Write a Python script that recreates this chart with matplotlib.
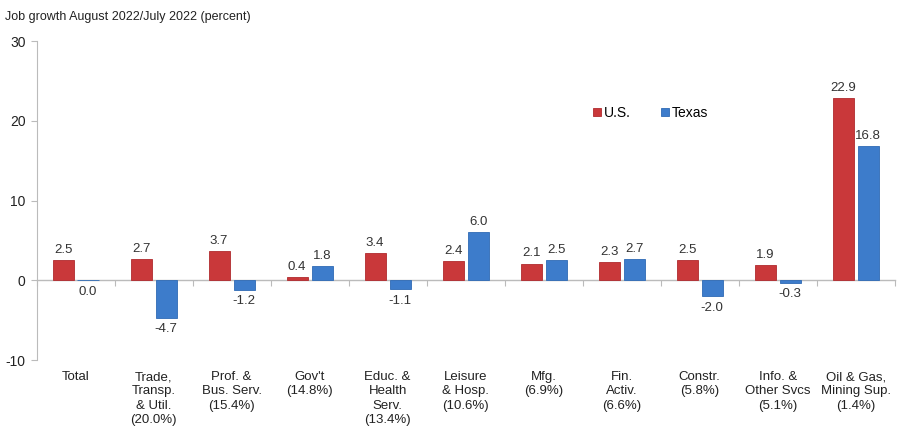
import matplotlib.pyplot as plt
import numpy as np

plt.rcParams['font.family'] = ['Liberation Sans', 'DejaVu Sans']
plt.rcParams['axes.unicode_minus'] = False

# Job growth by sector, August 2022 over July 2022
sectors = ['Total', 'Trade,\nTransp.\n& Util.\n(20.0%)', 'Prof. &\nBus. Serv.\n(15.4%)',
           "Gov't\n(14.8%)", 'Educ. &\nHealth\nServ.\n(13.4%)', 'Leisure\n& Hosp.\n(10.6%)',
           'Mfg.\n(6.9%)', 'Fin.\nActiv.\n(6.6%)', 'Constr.\n(5.8%)',
           'Info. &\nOther Svcs\n(5.1%)', 'Oil & Gas,\nMining Sup.\n(1.4%)']
us = [2.5, 2.7, 3.7, 0.4, 3.4, 2.4, 2.1, 2.3, 2.5, 1.9, 22.9]
texas = [0.0, -4.7, -1.2, 1.8, -1.1, 6.0, 2.5, 2.7, -2.0, -0.3, 16.8]

red = '#C9383A'
blue = '#3D7CCB'

fig = plt.figure(figsize=(9.13, 4.37), dpi=100)
ax = fig.add_axes([0.040, 0.176, 0.940, 0.730])

x = np.arange(len(sectors))
w = 0.27
off = 0.16
b1 = ax.bar(x - off, us, w, color=red, edgecolor='#B02A2E', linewidth=0.6, label='U.S.')
b2 = ax.bar(x + off, texas, w, color=blue, edgecolor='#2F6AB5', linewidth=0.6, label='Texas')

# value labels: above positive bars, below zero/negative bars
for bars, vals in ((b1, us), (b2, texas)):
    for rect, v in zip(bars, vals):
        cx = rect.get_x() + rect.get_width() / 2
        if v > 0:
            ax.annotate(f'{v:.1f}', (cx, v), xytext=(0, 3), textcoords='offset points',
                        ha='center', va='bottom', fontsize=9.5, color='#333333')
        else:
            ax.annotate(f'{v:.1f}', (cx, v), xytext=(0, -4), textcoords='offset points',
                        ha='center', va='top', fontsize=9.5, color='#333333')

ax.set_xlim(-0.5, len(sectors) - 0.5)
ax.set_ylim(-10, 30)
ax.set_yticks([-10, 0, 10, 20, 30])
ax.tick_params(axis='y', labelsize=10, length=4, color='#BBBBBB', labelcolor='#222222', pad=4)

ax.set_xticks(x)
ax.set_xticklabels(sectors, fontsize=9.5, color='#222222', linespacing=1.25)
ax.tick_params(axis='x', length=0, pad=8)

for s in ('top', 'right', 'bottom'):
    ax.spines[s].set_visible(False)
ax.spines['left'].set_color('#BBBBBB')

# zero line with group separator ticks
zero = ax.secondary_xaxis(0.25)
zero.set_xticks(np.arange(len(sectors) + 1) - 0.5)
zero.set_xticklabels([])
zero.tick_params(length=4, color='#BBBBBB', direction='out')
zero.spines['bottom'].set_color('#BBBBBB')
zero.spines['bottom'].set_linewidth(1.0)

ax.legend(loc='upper left', bbox_to_anchor=(0.634, 0.835), ncol=2, frameon=False,
          fontsize=10, handlelength=0.55, handleheight=0.55, handletextpad=0.2,
          columnspacing=2.2)

fig.text(0.006, 0.962, 'Job growth August 2022/July 2022 (percent)', fontsize=9,
         color='#222222', ha='left', va='center')

fig.savefig('out.png', dpi=100)
